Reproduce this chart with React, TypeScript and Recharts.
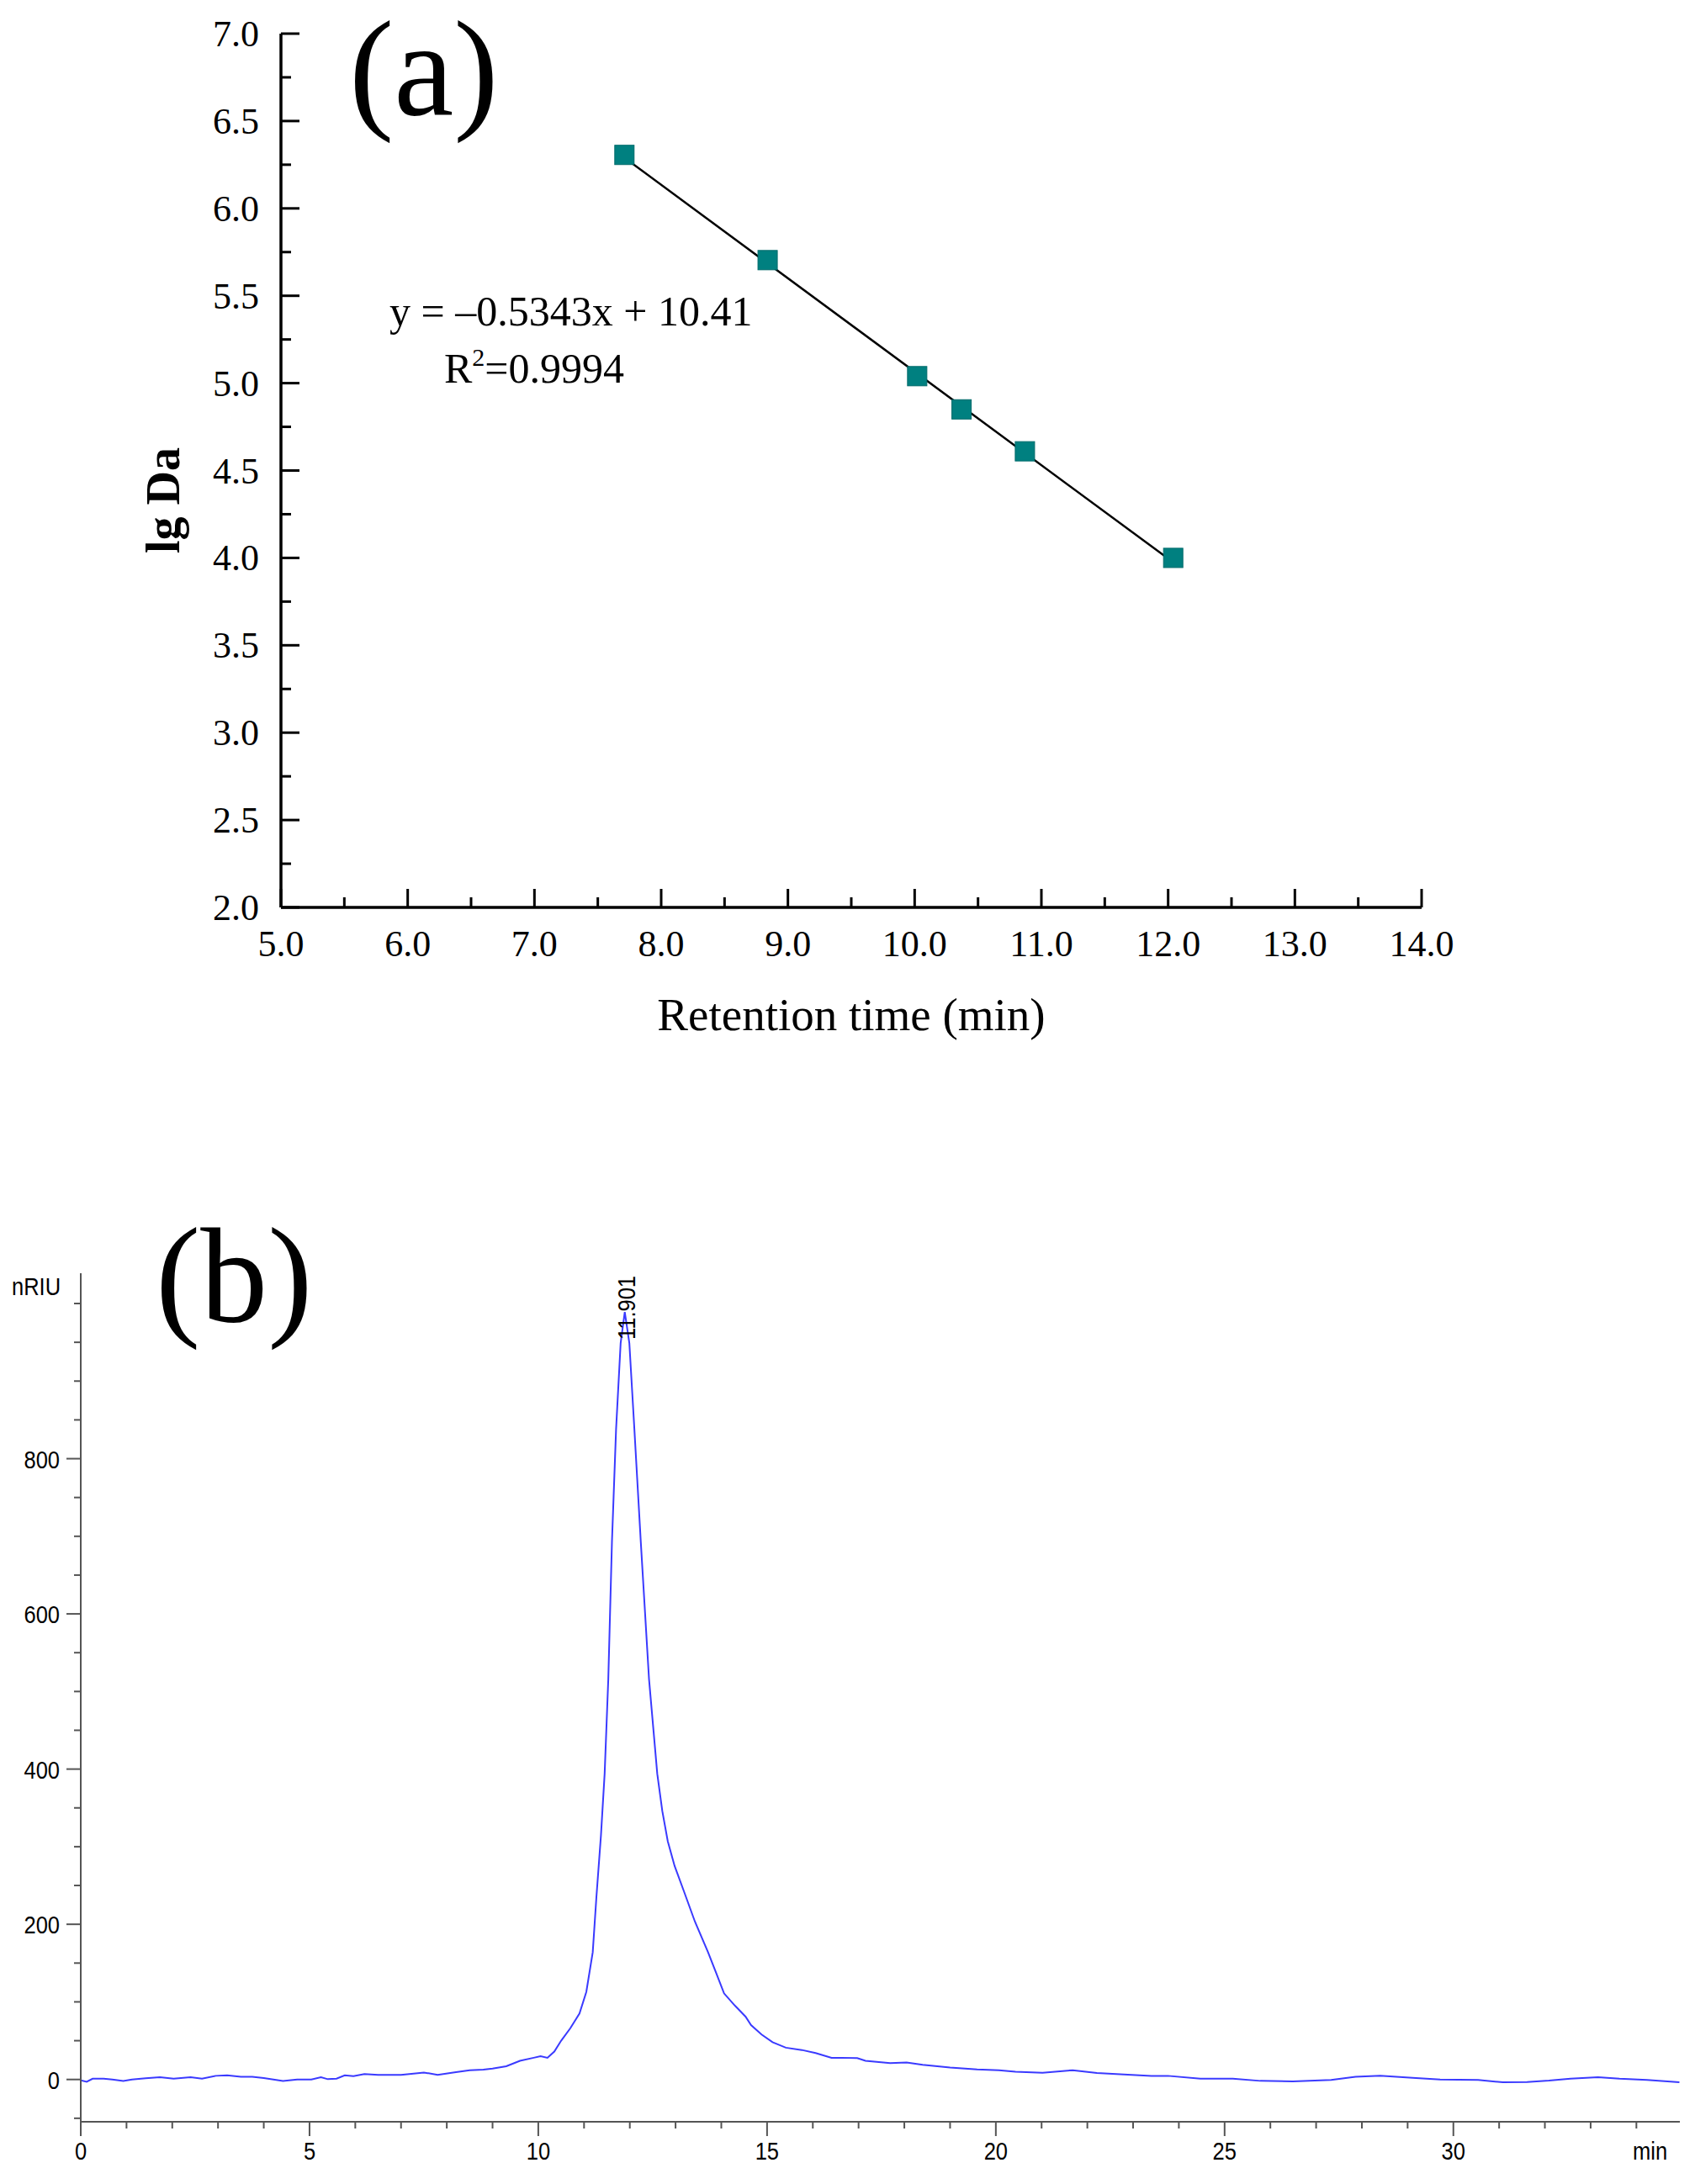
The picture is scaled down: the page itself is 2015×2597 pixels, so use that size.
import { ComposedChart, Line, LineChart, Scatter, XAxis, YAxis } from "recharts";

// (a) calibration: retention time (min) vs lg Da
const retentionTimes = [7.71, 8.84, 10.02, 10.37, 10.87, 12.04];
const lgDa = [6.306, 5.704, 5.04, 4.85, 4.61, 4.0];
const fitX = [7.71, 12.03];
const fitY = [6.29, 3.98];
const calXTicks = [5, 5.5, 6, 6.5, 7, 7.5, 8, 8.5, 9, 9.5, 10, 10.5, 11, 11.5, 12, 12.5, 13, 13.5, 14];
const calYTicks = [2, 2.25, 2.5, 2.75, 3, 3.25, 3.5, 3.75, 4, 4.25, 4.5, 4.75, 5, 5.25, 5.5, 5.75, 6, 6.25, 6.5, 6.75, 7];

// (b) RID chromatogram
const chromTime = [
  0, 0.13, 0.26, 0.5, 0.69, 0.93, 1.12, 1.42, 1.73, 2.03, 2.4, 2.65, 2.95, 3.2, 3.5, 3.75, 4.0, 4.42,
  4.73, 5.04, 5.25, 5.4, 5.59, 5.77, 5.96, 6.2, 6.5, 7.0, 7.5, 7.8, 8.2, 8.5, 8.8, 9.0, 9.3, 9.6, 9.9,
  10.05, 10.2, 10.35, 10.5, 10.7, 10.9, 11.05, 11.19, 11.27, 11.37, 11.45, 11.53, 11.61, 11.7, 11.8,
  11.89, 11.99, 12.1, 12.24, 12.42, 12.6, 12.71, 12.83, 12.98,
  13.18, 13.42, 13.71, 13.89, 14.06, 14.3, 14.53, 14.65, 14.88, 15.12, 15.41, 15.76, 16.06, 16.41, 16.62,
  16.97, 17.15, 17.69, 18.05, 18.4, 19.0, 19.59, 20.07, 20.43, 21.02, 21.68, 22.21, 22.8, 23.4, 23.76,
  24.47, 25.18, 25.78, 26.49, 27.33, 27.86, 28.4, 29.11, 29.71, 30.54, 31.08, 31.61, 32.09, 32.56, 33.16,
  33.63, 34.23, 34.94,
];
const chromSignal = [
  -1, -3, 1, 1, 0, -2, 0, 1.5, 3, 1, 3, 1, 4.7, 5.4, 3.6, 3.6, 1.8, -1.8,
  0, 0, 3, 0.4, 1, 5.4, 4.3, 7, 6, 6, 9, 6, 9.5, 12, 12.6, 14, 17, 24, 28,
  30, 28, 36, 50, 66, 85, 113, 164, 235, 315, 394, 516, 693, 838, 949,
  989, 949, 838, 693, 516, 394, 346, 307, 275,
  243, 204, 164, 137, 111, 95, 81, 70, 58, 48, 41, 38, 34, 28, 28,
  27.5, 24, 21, 22, 19, 15.5, 13, 12, 10, 8.7, 12, 8.3, 6.5, 4.7, 4.7,
  1, 1, -1.8, -2.5, -0.7, 3.6, 4.7, 2.2, 0, -0.7, -3.6, -3.2, -1.4, 1, 3,
  1, -0.7, -3.6,
];
const chromXTicks = Array.from({ length: 35 }, (_, i) => i);
const chromYTicks = [-50, 0, 50, 100, 150, 200, 250, 300, 350, 400, 450, 500, 550, 600, 650, 700, 750, 800, 850, 900, 950, 1000];
const chromYLabels = [0, 200, 400, 600, 800];

const calPoints = retentionTimes.map((x, i) => ({ x, y: lgDa[i] }));
const fitLine = fitX.map((x, i) => ({ x, y: fitY[i] }));
const chromData = chromTime.map((t, i) => ({ t, v: chromSignal[i] }));

const SERIF = "'Times New Roman', 'Liberation Serif', serif";
const SANS = "Arial, 'Liberation Sans', sans-serif";

function isMajor(v: number, step: number) {
  return Math.abs(v / step - Math.round(v / step)) < 1e-6;
}

// narrow sans text, like the instrument software output
function NarrowText({ x, y, anchor = "start", rotate = 0, size = 30, children }: any) {
  return (
    <text
      transform={`translate(${x} ${y}) rotate(${rotate}) scale(0.85 1)`}
      textAnchor={anchor}
      fontFamily={SANS}
      fontSize={size}
      fill="#000"
    >
      {children}
    </text>
  );
}

function CalXTick({ x, y, payload }: any) {
  const major = isMajor(payload.value, 1);
  return (
    <g>
      <line x1={x} x2={x} y1={y} y2={y - (major ? 22 : 12)} stroke="#000" strokeWidth={3} />
      {major && (
        <text x={x} y={y + 58} textAnchor="middle" fontFamily={SERIF} fontSize={44} fill="#000">
          {payload.value.toFixed(1)}
        </text>
      )}
    </g>
  );
}

function CalYTick({ x, y, payload }: any) {
  const major = isMajor(payload.value, 0.5);
  return (
    <g>
      <line x1={x} x2={x + (major ? 22 : 12)} y1={y} y2={y} stroke="#000" strokeWidth={3} />
      {major && (
        <text x={x - 26} y={y + 15} textAnchor="end" fontFamily={SERIF} fontSize={44} fill="#000">
          {payload.value.toFixed(1)}
        </text>
      )}
    </g>
  );
}

function ChromXTick({ x, y, payload }: any) {
  const major = payload.value % 5 === 0;
  return (
    <g>
      <line x1={x} x2={x} y1={y} y2={y + (major ? 17 : 8)} stroke="#555" strokeWidth={2} />
      {major && payload.value <= 30 && (
        <NarrowText x={x} y={y + 45} anchor="middle">
          {payload.value}
        </NarrowText>
      )}
    </g>
  );
}

function ChromYTick({ x, y, payload }: any) {
  const labelled = chromYLabels.includes(payload.value);
  return (
    <g>
      <line x1={x} x2={x - (labelled ? 17 : 8)} y1={y} y2={y} stroke="#555" strokeWidth={2} />
      {labelled && (
        <NarrowText x={x - 25} y={y + 11} anchor="end">
          {payload.value}
        </NarrowText>
      )}
    </g>
  );
}

function SquareDot({ cx, cy }: any) {
  return <rect x={cx - 11.5} y={cy - 11.5} width={23} height={23} fill="#008080" stroke="#006a6a" strokeWidth={1} />;
}

export default function App() {
  return (
    <div style={{ position: "absolute", left: 0, top: 0, width: 2015, height: 2597, background: "#fff" }}>
      <div style={{ position: "absolute", left: 0, top: 0 }}>
        <ComposedChart width={2015} height={1300} margin={{ top: 40, right: 325, bottom: 121, left: 234 }}>
          <XAxis
            type="number"
            dataKey="x"
            domain={[5, 14]}
            ticks={calXTicks}
            interval={0}
            height={100}
            tickSize={0}
            tickMargin={0}
            tickLine={false}
            axisLine={{ stroke: "#000", strokeWidth: 3.5 }}
            tick={<CalXTick />}
            allowDataOverflow
          />
          <YAxis
            type="number"
            dataKey="y"
            domain={[2, 7]}
            ticks={calYTicks}
            interval={0}
            width={100}
            tickSize={0}
            tickMargin={0}
            tickLine={false}
            axisLine={{ stroke: "#000", strokeWidth: 3.5 }}
            tick={<CalYTick />}
            allowDataOverflow
          />
          <Scatter data={calPoints} dataKey="y" shape={<SquareDot />} isAnimationActive={false} />
          <Line data={fitLine} dataKey="y" type="linear" stroke="#000" strokeWidth={2.5} dot={false} isAnimationActive={false} />
        </ComposedChart>
      </div>
      <div style={{ position: "absolute", left: 0, top: 1400 }}>
        <LineChart width={2015} height={1197} data={chromData} margin={{ top: 114, right: 18, bottom: 0, left: 0 }}>
          <XAxis
            type="number"
            dataKey="t"
            domain={[0, 34.95]}
            ticks={chromXTicks}
            interval={0}
            height={74}
            tickSize={0}
            tickMargin={0}
            tickLine={false}
            axisLine={{ stroke: "#555", strokeWidth: 2 }}
            tick={<ChromXTick />}
            allowDataOverflow
          />
          <YAxis
            type="number"
            domain={[-54.5, 1039]}
            ticks={chromYTicks}
            interval={0}
            width={96}
            tickSize={0}
            tickMargin={0}
            tickLine={false}
            axisLine={{ stroke: "#555", strokeWidth: 2 }}
            tick={<ChromYTick />}
            allowDataOverflow
          />
          <Line dataKey="v" type="linear" stroke="#3a3aff" strokeWidth={2} dot={false} isAnimationActive={false} />
        </LineChart>
      </div>
      <svg width={2015} height={2597} style={{ position: "absolute", left: 0, top: 0, pointerEvents: "none" }}>
        <text x={415} y={136} fontFamily={SERIF} fontSize={160} fill="#000">(a)</text>
        <text x={463} y={387} fontFamily={SERIF} fontSize={50} fill="#000">y = –0.5343x + 10.41</text>
        <text x={528} y={455} fontFamily={SERIF} fontSize={50} fill="#000">
          R<tspan dy={-20} fontSize={30}>2</tspan><tspan dy={20}>=0.9994</tspan>
        </text>
        <text x={1012} y={1225} textAnchor="middle" fontFamily={SERIF} fontSize={55} fill="#000">Retention time (min)</text>
        <text x={213} y={595} textAnchor="middle" transform="rotate(-90 213 595)" fontFamily={SERIF} fontWeight="bold" fontSize={56} fill="#000">lg Da</text>
        <text x={185} y={1571} fontFamily={SERIF} fontSize={160} fill="#000">(b)</text>
        <NarrowText x={14} y={1540} size={30}>nRIU</NarrowText>
        <NarrowText x={1941} y={2568} size={30}>min</NarrowText>
        <NarrowText x={755} y={1555} anchor="middle" rotate={-90} size={30}>11.901</NarrowText>
      </svg>
    </div>
  );
}
